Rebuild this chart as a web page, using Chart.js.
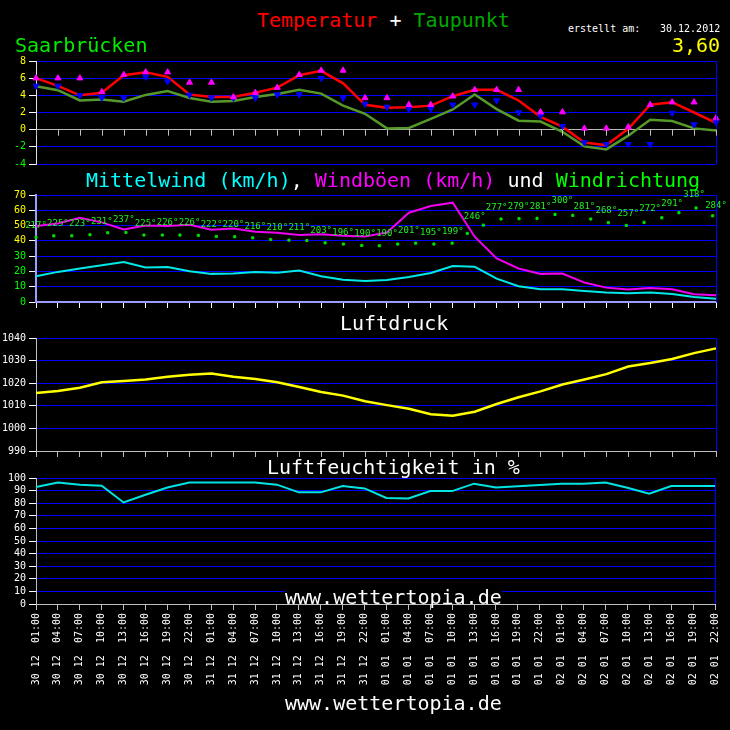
<!DOCTYPE html>
<html>
<head>
<meta charset="utf-8">
<script src="https://cdn.jsdelivr.net/npm/chart.js@4.4.0/dist/chart.umd.min.js"></script>
<style>
body { margin: 0; background: #000; width: 730px; height: 730px; overflow: hidden; position: relative; font-family: "DejaVu Sans Mono", monospace; }
canvas { position: absolute; left: 0; }
.t { position: absolute; white-space: pre; font-size: 20px; line-height: 20px; color: #fff; z-index: 2; }
.s { font-size: 10px; line-height: 10px; }
</style>
</head>
<body>
<div class="t" style="left:257px;top:10px"><span style="color:#ff0000">Temperatur</span> + <span style="color:#00a800">Taupunkt</span></div>
<div class="t" style="left:15px;top:35px;color:#00ee00">Saarbrücken</div>
<div class="t s" style="left:568px;top:24px">erstellt am:</div>
<div class="t s" style="left:660px;top:24px">30.12.2012</div>
<div class="t" style="left:672px;top:35px;color:#ffff00">3,60</div>
<div class="t" style="left:86px;top:170px"><span style="color:#00ffff">Mittelwind (km/h)</span>, <span style="color:#ff00ff">Windböen (km/h)</span> und <span style="color:#00ff00">Windrichtung</span></div>
<div class="t" style="left:340px;top:313px">Luftdruck</div>
<div class="t" style="left:267px;top:457px">Luftfeuchtigkeit in %</div>
<div class="t" style="left:285px;top:591px;line-height:12px;background:#000">www.wettertopia.de</div>
<div class="t" style="left:285px;top:693px">www.wettertopia.de</div>

<canvas id="cTemp" width="730" height="123" style="top:51px"></canvas>
<canvas id="cWind" width="730" height="127" style="top:185px"></canvas>
<canvas id="cPress" width="730" height="133" style="top:328px"></canvas>
<canvas id="cHum" width="730" height="226" style="top:468px"></canvas>

<script>
// x axis: every 3 hours, 30.12. to 02.01.
const days = ['30 12', '31 12', '01 01', '02 01'];
const hours = ['01:00', '04:00', '07:00', '10:00', '13:00', '16:00', '19:00', '22:00'];
const timeLabels = [];
days.forEach(d => hours.forEach(h => timeLabels.push(d + '  ' + h)));

// Temperatur / Taupunkt (°C)
const temperature = [6.0, 5.1, 4.0, 4.3, 6.35, 6.7, 6.15, 4.1, 3.8, 3.8, 4.3, 4.9, 6.35, 6.85, 5.4, 2.9,
  2.55, 2.6, 2.8, 3.9, 4.65, 4.65, 3.4, 1.5, 0.35, -1.5, -1.8, 0.1, 2.9, 3.2, 2.0, 0.8];
const dewPoint = [5.05, 4.6, 3.4, 3.5, 3.25, 4.05, 4.5, 3.7, 3.25, 3.35, 3.8, 4.15, 4.65, 4.2, 2.8, 1.85,
  0.15, 0.2, 1.25, 2.35, 4.1, 2.4, 1.05, 0.95, -0.25, -1.95, -2.3, -0.7, 1.15, 1.0, 0.15, -0.1];
const tempMax = [6.0, 6.0, 6.0, 4.4, 6.4, 6.7, 6.7, 5.5, 5.5, 3.8, 4.3, 4.9, 6.4, 6.9, 6.9, 3.7,
  3.7, 2.9, 2.9, 3.9, 4.65, 4.65, 4.65, 2.05, 2.05, 0.15, 0.15, 0.3, 2.9, 3.2, 3.2, 1.35];
const tempMin = [5.1, 5.1, 4.0, 3.7, 3.7, 6.15, 5.6, 4.05, 3.7, 3.7, 3.7, 4.1, 4.1, 6.0, 3.7, 3.0,
  2.65, 2.4, 2.45, 2.9, 2.9, 3.4, 2.0, 1.6, 0.4, -1.5, -1.7, -1.7, -1.7, 1.95, 0.6, 0.85];

// Wind (km/h) and direction (°)
const windMean = [16.9, 19.7, 21.9, 24.1, 26.2, 22.6, 22.9, 20.1, 18.4, 18.6, 19.6, 19.2, 20.6, 16.9, 14.5, 13.8,
  14.4, 16.4, 19.0, 23.6, 23.0, 15.3, 10.3, 8.3, 8.3, 7.2, 6.2, 5.7, 6.2, 5.3, 3.3, 2.2];
const windGust = [49.7, 51.4, 55.1, 52.1, 47.5, 50.1, 49.7, 50.5, 47.3, 48.1, 45.9, 45.3, 43.8, 44.4, 43.3, 42.9,
  45.5, 58.4, 62.8, 65.0, 42.7, 28.5, 21.9, 18.4, 18.6, 12.7, 9.4, 8.1, 9.2, 8.3, 5.1, 4.4];
const windDir = [217, 225, 223, 231, 237, 225, 226, 226, 222, 220, 216, 210, 211, 203, 196, 190,
  190, 201, 195, 199, 246, 277, 279, 281, 300, 281, 268, 257, 272, 291, 318, 284];
// direction dots (position in time steps, height on wind scale)
const dirDotPos = [0, 0.81, 1.63, 2.46, 3.27, 4.10, 4.92, 5.76, 6.56, 7.40, 8.22, 9.06, 9.88, 10.70, 11.53,
  12.35, 13.18, 14.01, 14.85, 15.65, 16.49, 17.31, 18.14, 18.97, 19.66, 20.39, 21.20, 22.02, 22.84,
  23.66, 24.47, 25.29, 26.09, 26.91, 27.72, 28.53, 29.31, 30.09, 30.85];
const dirDotVal = [42.3, 43.3, 43.3, 44.0, 45.3, 45.5, 43.8, 43.8, 43.8, 43.6, 42.9, 42.7, 42.0, 40.9, 40.5,
  40.2, 38.7, 37.9, 37.0, 36.8, 37.9, 38.5, 37.9, 38.5, 44.9, 50.3, 54.3, 54.5, 54.7,
  57.3, 56.7, 54.3, 51.9, 50.1, 52.1, 55.1, 58.4, 61.5, 56.4];

// Luftdruck (hPa), Luftfeuchtigkeit (%)
const pressure = [1015.7, 1016.6, 1018.0, 1020.4, 1021.0, 1021.6, 1022.9, 1023.7, 1024.3, 1022.9, 1021.9, 1020.4,
  1018.3, 1016.1, 1014.5, 1012.0, 1010.3, 1008.7, 1006.3, 1005.6, 1007.4, 1010.8, 1013.8, 1016.4,
  1019.4, 1021.6, 1024.0, 1027.4, 1028.9, 1030.7, 1033.3, 1035.4];
const humidity = [92.8, 96.5, 94.7, 93.9, 80.6, 86.7, 92.5, 96.5, 96.5, 96.5, 96.5, 94.7, 88.6, 88.6, 93.6, 91.7,
  84.1, 83.8, 89.6, 89.6, 95.5, 92.5, 93.4, 94.4, 95.5, 95.5, 96.5, 92.3, 87.5, 93.6, 93.6, 93.6];

Chart.defaults.font.family = '"DejaVu Sans Mono", monospace';
Chart.defaults.font.size = 10;
Chart.defaults.animation = false;

const BLUE = '#0000ff';

// blue line on the right edge of each panel
const frame = {
  id: 'frame',
  afterDraw(chart) {
    const a = chart.chartArea, c = chart.ctx;
    c.save();
    c.strokeStyle = BLUE;
    c.lineWidth = 1;
    c.beginPath();
    c.moveTo(a.right + 0.5, a.top);
    c.lineTo(a.right + 0.5, a.bottom);
    c.stroke();
    c.restore();
  }
};

// tick marks under the 0 °C line
const zeroTicks = {
  id: 'zeroTicks',
  afterDraw(chart) {
    const x = chart.scales.x, y0 = chart.scales.y.getPixelForValue(0), c = chart.ctx;
    c.save();
    c.strokeStyle = '#c0c0c0';
    c.lineWidth = 1;
    c.beginPath();
    timeLabels.forEach((l, i) => {
      const px = Math.round(x.getPixelForValue(i)) + 0.5;
      c.moveTo(px, y0);
      c.lineTo(px, y0 + 6);
    });
    c.stroke();
    c.restore();
  }
};

// wind direction labels
const dirLabels = {
  id: 'dirLabels',
  afterDatasetsDraw(chart) {
    const x = chart.scales.x, y = chart.scales.y, c = chart.ctx;
    c.save();
    c.font = '9px "DejaVu Sans Mono"';
    c.fillStyle = '#22f022';
    c.textAlign = 'center';
    c.textBaseline = 'middle';
    windDir.forEach((d, i) => {
      c.fillText(d + '°', x.getPixelForValue(i), y.getPixelForValue(d / 5 + 6.4));
    });
    c.restore();
  }
};

function yAxis(min, max, step, labelColor, borderColor, borderWidth) {
  return {
    min: min, max: max,
    ticks: { stepSize: step, color: labelColor, padding: 3, autoSkip: false, callback: v => String(v) },
    grid: { color: BLUE, tickColor: '#ffffff', tickLength: 7 },
    border: { color: borderColor, width: borderWidth || 1 },
    afterFit(s) { s.width = 36; }
  };
}

function xAxisTicksOnly(borderColor, borderWidth, tickColor) {
  return {
    ticks: { display: false, autoSkip: false },
    grid: { drawOnChartArea: false, tickLength: 6, tickColor: tickColor },
    border: { color: borderColor, width: borderWidth },
    afterFit(s) { s.height = 8; }
  };
}

const baseOpts = {
  responsive: false,
  devicePixelRatio: 1,
  plugins: { legend: { display: false }, tooltip: { enabled: false } },
  elements: { point: { radius: 0 }, line: { tension: 0 } }
};

// Temperatur + Taupunkt
new Chart(document.getElementById('cTemp'), {
  type: 'line',
  data: {
    labels: timeLabels,
    datasets: [
      { data: tempMax, showLine: false, pointStyle: 'triangle', pointRadius: 3.5,
        backgroundColor: '#ff00ff', borderColor: '#ff00ff', clip: false },
      { data: tempMin, showLine: false, pointStyle: 'triangle', rotation: 180, pointRadius: 3.5,
        backgroundColor: '#0000ff', borderColor: '#0000ff', clip: false },
      { data: temperature, borderColor: '#ff0000', borderWidth: 2.5 },
      { data: dewPoint, borderColor: '#55992a', borderWidth: 2.5 }
    ]
  },
  options: Object.assign({}, baseOpts, {
    layout: { padding: { top: 10, bottom: 10, left: 0, right: 14 } },
    scales: {
      x: { display: false },
      y: Object.assign(yAxis(-4, 8, 2, c => c.tick.value < 0 ? '#00ff00' : '#ffff00', '#e0e0e0'), {
        grid: { color: c => c.tick.value === 0 ? '#b8b8b8' : BLUE, tickColor: '#ffffff', tickLength: 7 }
      })
    }
  }),
  plugins: [frame, zeroTicks]
});

// Mittelwind, Windböen, Windrichtung
new Chart(document.getElementById('cWind'), {
  type: 'line',
  data: {
    labels: timeLabels,
    datasets: [
      { data: windGust, borderColor: '#f000f0', borderWidth: 2 },
      { data: windMean, borderColor: '#00e8e8', borderWidth: 2 },
      { data: dirDotPos.map((p, i) => ({ x: p, y: dirDotVal[i] })), xAxisID: 'xd', showLine: false,
        pointStyle: 'rect', pointRadius: 1.5, backgroundColor: '#00e000', borderColor: '#00e000', clip: false }
    ]
  },
  options: Object.assign({}, baseOpts, {
    layout: { padding: { top: 10, bottom: 2, left: 0, right: 14 } },
    scales: {
      x: xAxisTicksOnly('#9c9cff', 2, '#ffffff'),
      xd: { type: 'linear', min: 0, max: timeLabels.length - 1, display: false },
      y: yAxis(0, 70, 10, c => c.tick.value >= 40 ? '#ffff00' : '#00ff00', '#9c9cff', 2)
    }
  }),
  plugins: [frame, dirLabels]
});

// Luftdruck
new Chart(document.getElementById('cPress'), {
  type: 'line',
  data: {
    labels: timeLabels,
    datasets: [{ data: pressure, borderColor: '#ffff00', borderWidth: 2.5 }]
  },
  options: Object.assign({}, baseOpts, {
    layout: { padding: { top: 10, bottom: 2, left: 0, right: 14 } },
    scales: {
      x: xAxisTicksOnly('#c0c0c0', 1, '#c0c0c0'),
      y: yAxis(990, 1040, 10, '#ffffff', '#c0c0c0')
    }
  }),
  plugins: [frame]
});

// Luftfeuchtigkeit
new Chart(document.getElementById('cHum'), {
  type: 'line',
  data: {
    labels: timeLabels,
    datasets: [{ data: humidity, borderColor: '#00e4e4', borderWidth: 2 }]
  },
  options: Object.assign({}, baseOpts, {
    layout: { padding: { top: 10, bottom: 2, left: 0, right: 14 } },
    scales: {
      x: {
        ticks: { color: '#ffffff', autoSkip: false, minRotation: 90, maxRotation: 90, padding: 3 },
        grid: { drawOnChartArea: false, tickLength: 6, tickColor: '#c0c0c0' },
        border: { color: '#c0c0c0' },
        afterFit(s) { s.height = 88; }
      },
      y: yAxis(0, 100, 10, '#ffffff', '#c0c0c0')
    }
  }),
  plugins: [frame]
});
</script>
</body>
</html>
